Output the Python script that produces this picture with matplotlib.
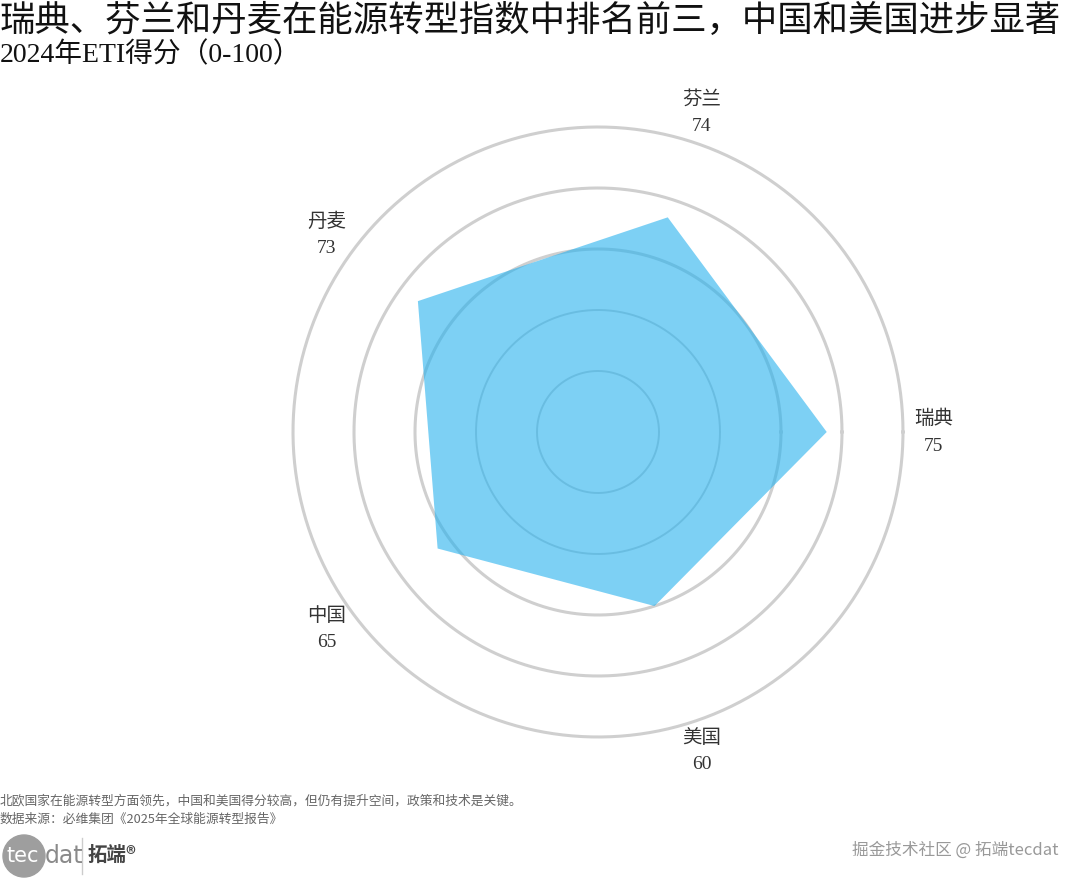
import numpy as np
import matplotlib
matplotlib.use("Agg")
import matplotlib.pyplot as plt
from matplotlib.patches import Circle

plt.rcParams['font.family'] = ['Noto Sans CJK SC', 'DejaVu Sans']

countries = ["瑞典", "芬兰", "丹麦", "中国", "美国"]
scores = [75, 74, 73, 65, 60]
ring_levels = [20, 40, 60, 80, 100]

title = "瑞典、芬兰和丹麦在能源转型指数中排名前三，中国和美国进步显著"
subtitle = "2024年ETI得分（0-100）"
note = "北欧国家在能源转型方面领先，中国和美国得分较高，但仍有提升空间，政策和技术是关键。"
source = "数据来源：必维集团《2025年全球能源转型报告》"

serif = ['Liberation Serif', 'Noto Sans CJK SC']

fig = plt.figure(figsize=(10.8, 8.8), dpi=100)
fig.patch.set_facecolor("white")

ax = fig.add_axes([0.2713, 0.1625, 0.5648, 0.6932], projection="polar")
ax.set_ylim(0, 100)
ax.set_xticks([])
ax.set_yticks([])
ax.grid(False)
ax.spines["polar"].set_visible(False)
ax.set_facecolor("none")

t = np.linspace(0, 2 * np.pi, 400)
for lv in ring_levels:
    lw = 2.2 if lv >= 60 else 1.4
    ax.plot(t, np.full_like(t, lv), color="#cfcfcf", lw=lw, zorder=1, clip_on=False)

n = len(countries)
angles = np.arange(n) * 2 * np.pi / n
ang_c = np.append(angles, angles[0])
sc_c = np.append(scores, scores[0])
ax.fill(ang_c, sc_c, color="#26B1EE", alpha=0.6, lw=0, zorder=2)

for a, c, s in zip(angles, countries, scores):
    ax.text(a, 110, f"{c}\n{s}", ha="center", va="center", fontsize=14,
            family=serif, color="#333333", linespacing=1.75, clip_on=False)

fig.text(0.0, 0.997, title, ha="left", va="top", fontsize=25.5, color="#111111")
fig.text(0.0, 0.952, subtitle, ha="left", va="top", fontsize=20, color="#111111",
         family=serif)
fig.text(0.0, 0.097, note, ha="left", va="top", fontsize=9.2, color="#666666")
fig.text(0.0, 0.076, source, ha="left", va="top", fontsize=9.2, color="#666666")

# logo
logo = fig.add_axes([0.0, 0.0, 0.2, 0.06])
logo.set_xlim(0, 216)
logo.set_ylim(0, 52.8)
logo.axis("off")
logo.add_patch(Circle((24, 24), 21, color="#9e9e9e"))
logo.text(23, 24, "tec", ha="center", va="center", fontsize=15, color="white",
          family=['DejaVu Sans'])
logo.text(45, 24, "dat", ha="left", va="center", fontsize=17, color="#8a8a8a",
          family=['DejaVu Sans'])
logo.plot([82, 82], [6, 42], color="#cccccc", lw=1)
logo.text(88, 25, "拓端®", ha="left", va="center", fontsize=14, color="#444444",
          fontweight="bold")

fig.text(0.980, 0.034, "掘金技术社区 @ 拓端tecdat", ha="right", va="center",
         fontsize=12, color="#999999")

fig.savefig("out.png", dpi=100, facecolor="white")
